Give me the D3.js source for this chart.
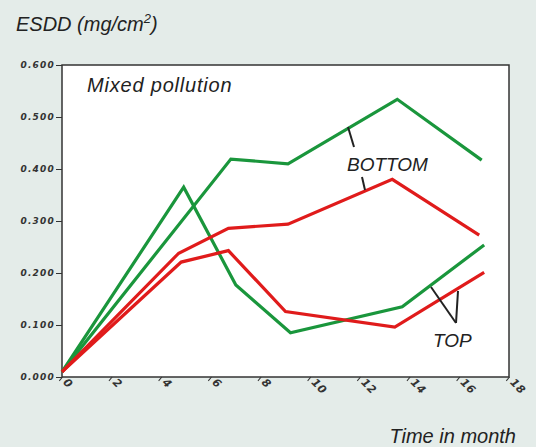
<!DOCTYPE html>
<html>
<head>
<meta charset="utf-8">
<script src="https://cdn.jsdelivr.net/npm/d3@7"></script>
<style>
  body { margin: 0; background: #e4ece9; }
  svg { display: block; }
  .lbl { font-family: "Liberation Sans", Arial, sans-serif; font-style: italic; fill: #222; }
  .axis text { font-family: "DejaVu Sans", sans-serif; font-style: italic; font-weight: bold; font-size: 9px; fill: #333; letter-spacing: 1.2px; }
  .axis path, .axis line { stroke: #333; }
  .xaxis text { font-size: 11px; letter-spacing: 0.5px; }
</style>
</head>
<body>
<div id="chart"></div>
<script>
// values (months, ESDD mg/cm2)
var greenTopMonths = [0, 4.9, 7.0, 9.2, 13.7, 17.0];
var greenTopValues = [0.01, 0.365, 0.177, 0.085, 0.135, 0.254];

var greenBottomMonths = [0, 6.8, 9.1, 13.5, 16.9];
var greenBottomValues = [0.01, 0.419, 0.410, 0.534, 0.417];

var redBottomMonths = [0, 4.7, 6.7, 9.1, 13.3, 16.8];
var redBottomValues = [0.01, 0.238, 0.286, 0.294, 0.380, 0.273];

var redTopMonths = [0, 4.8, 6.7, 9.0, 13.4, 17.0];
var redTopValues = [0.01, 0.221, 0.243, 0.126, 0.096, 0.201];

var xTicks = [0, 2, 4, 6, 8, 10, 12, 14, 16, 18];
var yTicks = [0, 0.1, 0.2, 0.3, 0.4, 0.5, 0.6];

var WIDTH = 536;
var HEIGHT = 447;
var LEFT = 62, RIGHT = 509, TOP = 65, BOTTOM = 377;

var GREEN = '#1a963c';
var RED = '#e01b1b';

var x = d3.scaleLinear().domain([0, 18]).range([LEFT, RIGHT]);
var y = d3.scaleLinear().domain([0, 0.6]).range([BOTTOM, TOP]);

var svg = d3.select('#chart')
  .append('svg')
    .attr('width', WIDTH)
    .attr('height', HEIGHT);

// plot box
svg.append('rect')
  .attr('x', LEFT).attr('y', TOP)
  .attr('width', RIGHT - LEFT).attr('height', BOTTOM - TOP)
  .attr('fill', '#fff')
  .attr('stroke', '#333')
  .attr('stroke-width', 1.5);

var yAxis = d3.axisLeft(y).tickValues(yTicks).tickFormat(d3.format('.3f')).tickSize(6).tickPadding(1);
svg.append('g')
  .attr('class', 'axis')
  .attr('transform', 'translate(' + LEFT + ',0)')
  .call(yAxis)
  .call(function(g) { g.select('.domain').remove(); });

var xAxis = d3.axisBottom(x).tickValues(xTicks).tickSize(5);
svg.append('g')
  .attr('class', 'axis xaxis')
  .attr('transform', 'translate(0,' + BOTTOM + ')')
  .call(xAxis)
  .call(function(g) {
    g.select('.domain').remove();
    g.selectAll('line').attr('transform', 'rotate(40)');
    g.selectAll('text')
      .attr('text-anchor', 'start')
      .attr('dy', null)
      .attr('y', 0)
      .attr('x', 0)
      .attr('transform', 'translate(2,4) rotate(45)')
      .attr('dominant-baseline', 'middle');
  });

var line = d3.line()
  .x(function(d) { return x(d[0]); })
  .y(function(d) { return y(d[1]); });

var series = [
  { months: greenTopMonths, values: greenTopValues, color: GREEN },
  { months: greenBottomMonths, values: greenBottomValues, color: GREEN },
  { months: redBottomMonths, values: redBottomValues, color: RED },
  { months: redTopMonths, values: redTopValues, color: RED }
];

series.forEach(function(s) {
  svg.append('path')
    .datum(d3.zip(s.months, s.values))
    .attr('fill', 'none')
    .attr('stroke', s.color)
    .attr('stroke-width', 3.2)
    .attr('stroke-linejoin', 'miter')
    .attr('d', line);
});

// leader lines for labels
var leaders = [
  [348, 127, 354, 147],
  [362, 177, 365, 190],
  [431, 287, 456, 323],
  [458, 291, 456, 323]
];
svg.selectAll('.leader')
  .data(leaders)
  .enter().append('line')
    .attr('class', 'leader')
    .attr('x1', function(d) { return d[0]; })
    .attr('y1', function(d) { return d[1]; })
    .attr('x2', function(d) { return d[2]; })
    .attr('y2', function(d) { return d[3]; })
    .attr('stroke', '#222')
    .attr('stroke-width', 2);

svg.append('text').attr('class', 'lbl')
  .attr('x', 347).attr('y', 171).attr('font-size', 19)
  .text('BOTTOM');
svg.append('text').attr('class', 'lbl')
  .attr('x', 433).attr('y', 347).attr('font-size', 19)
  .text('TOP');
svg.append('text').attr('class', 'lbl')
  .attr('x', 87).attr('y', 92).attr('font-size', 20)
  .attr('letter-spacing', 0.8)
  .text('Mixed pollution');

var ylab = svg.append('text').attr('class', 'lbl')
  .attr('x', 16).attr('y', 31).attr('font-size', 20);
ylab.append('tspan').text('ESDD (mg/cm');
ylab.append('tspan').attr('font-size', 13).attr('dy', -8).text('2');
ylab.append('tspan').attr('dy', 8).text(')');

svg.append('text').attr('class', 'lbl')
  .attr('x', 516).attr('y', 443).attr('font-size', 20)
  .attr('text-anchor', 'end')
  .text('Time in month');
</script>
</body>
</html>
